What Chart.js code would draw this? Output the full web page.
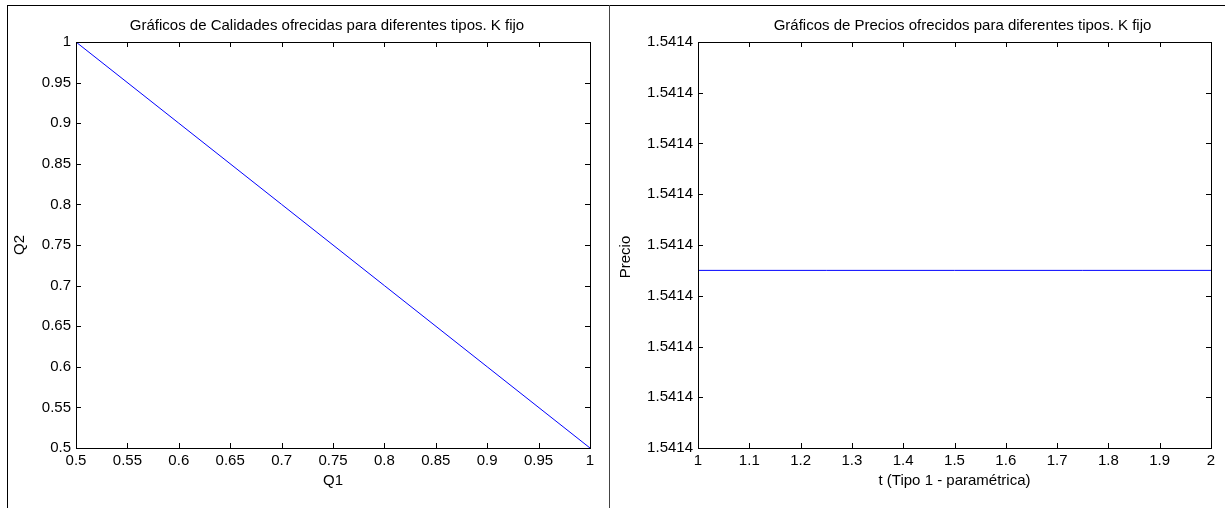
<!DOCTYPE html>
<html>
<head>
<meta charset="utf-8">
<script src="https://cdn.jsdelivr.net/npm/chart.js@4/dist/chart.umd.min.js"></script>
<style>
  html, body { margin: 0; padding: 0; background: #fff; }
  body { width: 1225px; height: 508px; position: relative; overflow: hidden; }
  .ln { position: absolute; background: #000; }
  canvas { position: absolute; top: 0; }
</style>
</head>
<body>
<div class="ln" style="left:7px;top:5px;width:1218px;height:1px;"></div>
<div class="ln" style="left:7px;top:5px;width:1px;height:503px;"></div>
<div class="ln" style="left:609px;top:5px;width:1px;height:503px;background:#444;"></div>
<canvas id="c1" width="609" height="508" style="left:0px;"></canvas>
<canvas id="c2" width="615" height="508" style="left:610px;"></canvas>
<script>
// ---- Data ----
const titleQ = 'Gráficos de Calidades ofrecidas para diferentes tipos. K fijo';
const titleP = 'Gráficos de Precios ofrecidos para diferentes tipos. K fijo';

const q1Values = [0.5, 0.6, 0.7, 0.8, 0.9, 1.0];
const q2Values = [1.0, 0.9, 0.8, 0.7, 0.6, 0.5];

const q1TickValues = [0.5, 0.55, 0.6, 0.65, 0.7, 0.75, 0.8, 0.85, 0.9, 0.95, 1];
const q1TickLabels = ['0.5', '0.55', '0.6', '0.65', '0.7', '0.75', '0.8', '0.85', '0.9', '0.95', '1'];
const q2TickValues = [0.5, 0.55, 0.6, 0.65, 0.7, 0.75, 0.8, 0.85, 0.9, 0.95, 1];
const q2TickLabels = ['0.5', '0.55', '0.6', '0.65', '0.7', '0.75', '0.8', '0.85', '0.9', '0.95', '1'];

const tValues = [1, 1.25, 1.5, 1.75, 2];
const precioValues = [1.541435, 1.541435, 1.541435, 1.541435, 1.541435];

const tTickValues = [1, 1.1, 1.2, 1.3, 1.4, 1.5, 1.6, 1.7, 1.8, 1.9, 2];
const tTickLabels = ['1', '1.1', '1.2', '1.3', '1.4', '1.5', '1.6', '1.7', '1.8', '1.9', '2'];
const precioTickValues = [1.54140, 1.54141, 1.54142, 1.54143, 1.54144, 1.54145, 1.54146, 1.54147, 1.54148];
const precioTickLabels = ['1.5414', '1.5414', '1.5414', '1.5414', '1.5414', '1.5414', '1.5414', '1.5414', '1.5414'];

// ---- Styling ----
const FONT = { family: '"Liberation Sans", Arial, Helvetica, sans-serif', size: 15 };
Chart.defaults.color = '#000';
Chart.defaults.font.family = FONT.family;
Chart.defaults.font.size = FONT.size;

// Box + inward ticks on all four sides, plus the plot title (and optional shifted y label)
const matlabAxes = {
  id: 'matlabAxes',
  afterDraw(chart, args, opts) {
    const { ctx, chartArea: a, scales: { x, y } } = chart;
    const L = 5;
    ctx.save();
    ctx.strokeStyle = '#000';
    ctx.lineWidth = 1;
    ctx.beginPath();
    x.ticks.forEach(t => {
      const px = Math.round(x.getPixelForValue(t.value)) + 0.5;
      ctx.moveTo(px, a.bottom); ctx.lineTo(px, a.bottom - L);
      ctx.moveTo(px, a.top); ctx.lineTo(px, a.top + L);
    });
    y.ticks.forEach(t => {
      const py = Math.round(y.getPixelForValue(t.value)) + 0.5;
      ctx.moveTo(a.left, py); ctx.lineTo(a.left + L, py);
      ctx.moveTo(a.right, py); ctx.lineTo(a.right - L, py);
    });
    ctx.stroke();
    ctx.strokeRect(a.left + 0.5, a.top + 0.5, a.right - a.left, a.bottom - a.top);
    // title
    ctx.fillStyle = '#000';
    ctx.font = FONT.size + 'px ' + FONT.family;
    ctx.textAlign = 'center';
    ctx.textBaseline = 'alphabetic';
    ctx.fillText(opts.text, (a.left + a.right) / 2 + (opts.dx || 0), opts.baseline);
    if (opts.ylabel) {
      ctx.translate(opts.ylabelX, (a.top + a.bottom) / 2 + opts.ylabelDy);
      ctx.rotate(-Math.PI / 2);
      ctx.textBaseline = 'middle';
      ctx.fillText(opts.ylabel, 0, 0);
    }
    ctx.restore();
  }
};

function makeChart(id, cfg) {
  return new Chart(document.getElementById(id), {
    type: 'scatter',
    data: {
      datasets: [{
        data: cfg.xs.map((v, i) => ({ x: v, y: cfg.ys[i] })),
        showLine: true,
        borderColor: '#0000ff',
        backgroundColor: '#0000ff',
        borderWidth: 1,
        pointRadius: 0,
        tension: 0
      }]
    },
    options: {
      responsive: false,
      animation: false,
      devicePixelRatio: 1,
      layout: { padding: { top: 42, right: cfg.padRight, bottom: 0, left: 0 } },
      plugins: {
        legend: { display: false },
        tooltip: { enabled: false },
        matlabAxes: {
          text: cfg.title, baseline: 30, dx: cfg.titleDx,
          ylabel: cfg.customYLabel ? cfg.yTitle : null,
          ylabelX: cfg.ylabelX, ylabelDy: cfg.ylabelDy
        }
      },
      scales: {
        x: {
          type: 'linear',
          min: cfg.xTicks[0],
          max: cfg.xTicks[cfg.xTicks.length - 1],
          afterBuildTicks: s => { s.ticks = cfg.xTicks.map(v => ({ value: v })); },
          afterFit: s => { s.height = 60; },
          grid: { display: false, drawTicks: false },
          border: { display: false },
          ticks: {
            autoSkip: false, maxRotation: 0, padding: 4,
            callback: (v, i) => cfg.xLabels[i]
          },
          title: { display: true, text: cfg.xTitle, padding: { top: 0, bottom: 18 } }
        },
        y: {
          type: 'linear',
          min: cfg.yTicks[0],
          max: cfg.yTicks[cfg.yTicks.length - 1],
          afterBuildTicks: s => { s.ticks = cfg.yTicks.map(v => ({ value: v })); },
          afterFit: s => { s.width = cfg.yWidth; },
          grid: { display: false, drawTicks: false },
          border: { display: false },
          ticks: {
            autoSkip: false, padding: 5,
            callback: (v, i) => cfg.yLabels[i]
          },
          title: { display: !cfg.customYLabel, text: cfg.yTitle, padding: { top: cfg.yTitlePad, bottom: 0 } }
        }
      }
    },
    plugins: [matlabAxes]
  });
}

makeChart('c1', {
  xs: q1Values, ys: q2Values,
  xTicks: q1TickValues, xLabels: q1TickLabels,
  yTicks: q2TickValues, yLabels: q2TickLabels,
  xTitle: 'Q1', yTitle: 'Q2',
  title: titleQ, titleDx: -6,
  yWidth: 76, padRight: 19, yTitlePad: 11
});

makeChart('c2', {
  xs: tValues, ys: precioValues,
  xTicks: tTickValues, xLabels: tTickLabels,
  yTicks: precioTickValues, yLabels: precioTickLabels,
  xTitle: 't (Tipo 1 - paramétrica)', yTitle: 'Precio',
  title: titleP, titleDx: 8,
  yWidth: 88, padRight: 14, yTitlePad: 7,
  customYLabel: true, ylabelX: 16, ylabelDy: 12
});
</script>
</body>
</html>
